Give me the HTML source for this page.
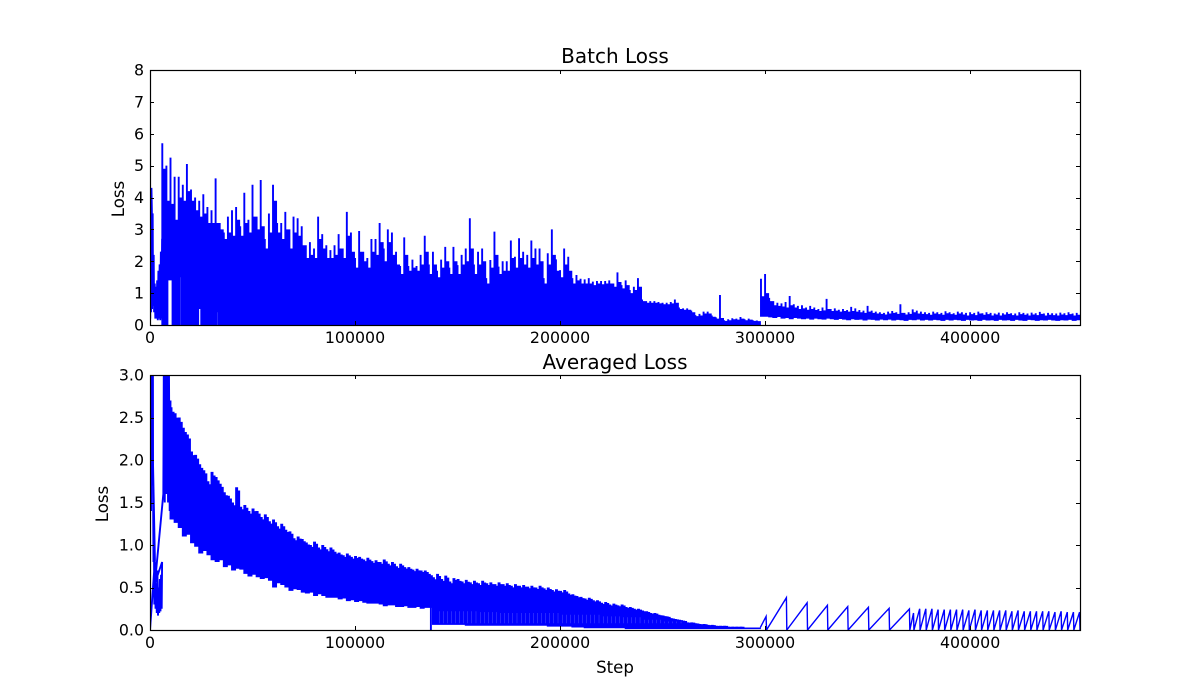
<!DOCTYPE html>
<html lang="en">
<head>
<meta charset="utf-8">
<title>Batch Loss and Averaged Loss</title>
<style>
html,body{margin:0;padding:0;background:#fff;width:1200px;height:700px;overflow:hidden}
svg{display:block}
text{font-family:"DejaVu Sans","Liberation Sans",sans-serif;fill:#000}
.tick-label{font-size:15.8px}
.axis-title{font-size:16.6px}
.chart-title{font-size:20px}
</style>
</head>
<body>
<svg id="chart" width="1200" height="700" viewBox="0 0 1200 700" xmlns="http://www.w3.org/2000/svg">
  <defs>
    <clipPath id="clip-top"><rect x="150" y="70" width="930" height="255"/></clipPath>
    <clipPath id="clip-bottom"><rect x="150" y="375" width="930" height="255"/></clipPath>
  </defs>
  <g id="top-panel">
    <path id="batch-line" clip-path="url(#clip-top)" fill="none" stroke="#0000ff" stroke-width="1.9"/>
    <rect x="150.5" y="70.5" width="930" height="255" fill="none" stroke="#000" stroke-width="1.2"/>
    <g id="top-ticks"></g>
    <text class="chart-title" x="615" y="63" text-anchor="middle">Batch Loss</text>
    <text class="axis-title" x="0" y="0" text-anchor="middle" transform="translate(124 199) rotate(-90)">Loss</text>
  </g>
  <g id="bottom-panel">
    <path id="avg-line" clip-path="url(#clip-bottom)" fill="none" stroke="#0000ff" stroke-width="1.9"/>
    <path id="avg-saw-line" clip-path="url(#clip-bottom)" fill="none" stroke="#0000ff" stroke-width="1.4"/>
    <rect x="150.5" y="375.5" width="930" height="255" fill="none" stroke="#000" stroke-width="1.2"/>
    <g id="bottom-ticks"></g>
    <text class="chart-title" x="615" y="369" text-anchor="middle">Averaged Loss</text>
    <text class="axis-title" x="0" y="0" text-anchor="middle" transform="translate(108 504) rotate(-90)">Loss</text>
    <text class="axis-title" x="615" y="673" text-anchor="middle">Step</text>
  </g>
</svg>
<script>
const xTickValues = [0, 100000, 200000, 300000, 400000];
const topYTicks = [0, 1, 2, 3, 4, 5, 6, 7, 8];
const bottomYTicks = ['0.0', '0.5', '1.0', '1.5', '2.0', '2.5', '3.0'];
const xMax = 453600;
const topYMax = 8;
const bottomYMax = 3;

/* Batch loss: first steps, traced point by point */
const batchEarlySteps = [0,100,200,500,700,900,1000,1300,1500,1800,2000,2300,2600,2900,3200,3500,3800,4100,4400,4700,5000,5300,5600,5900];
const batchEarlyValues = [5.2,0.2,4.3,0.4,4.3,3.6,0.5,3.5,0.6,2.2,0.4,1.3,0.2,1.2,0.2,1.4,0.15,1.7,0.2,1.9,0.15,2.3,0.2,2.7];
/* Batch loss: tallest spike in each 2000-step bucket */
const batchPeak = [
5.2,3.6,1.6,5.7,5.0,5.25,4.65,4.65,4.4,5.05,
4.25,4.0,3.9,4.1,3.7,3.6,4.6,3.2,2.9,3.4,
3.6,3.7,3.1,4.15,3.3,4.4,3.4,4.55,2.7,3.5,
4.4,3.2,3.2,3.55,3.0,3.4,3.35,3.1,2.5,2.6,
2.4,3.4,2.85,2.5,2.35,2.5,2.85,2.4,3.55,2.9,
2.1,2.95,2.3,2.1,2.7,2.7,3.2,2.4,3.0,2.9,
2.3,1.85,2.75,1.85,2.05,1.85,2.2,2.8,1.9,2.3,
1.7,2.05,2.45,1.8,2.45,1.88,2.2,2.4,3.35,1.9,
2.3,2.4,1.47,2.04,2.93,1.83,2.0,2.0,2.65,2.14,
2.72,2.3,2.2,2.65,2.4,2.4,1.47,2.25,3.0,2.06,
1.72,2.4,2.14,1.47,1.57,1.45,1.43,1.47,1.36,1.38,
1.38,1.38,1.4,1.3,1.65,1.25,1.4,1.1,1.2,1.47,
0.8,0.75,0.75,0.75,0.72,0.7,0.7,0.72,0.8,0.55,
0.52,0.52,0.45,0.31,0.35,0.42,0.42,0.3,0.24,0.94,
0.15,0.18,0.21,0.2,0.25,0.18,0.2,0.15,0.14,1.45,1.6,
0.85,0.75,0.7,0.68,0.72,0.91,0.65,0.6,0.62,0.55,
0.6,0.55,0.5,0.55,0.82,0.5,0.52,0.48,0.5,0.47,
0.57,0.52,0.47,0.45,0.6,0.45,0.42,0.4,0.38,0.42,
0.44,0.4,0.65,0.38,0.4,0.49,0.45,0.42,0.4,0.38,
0.42,0.4,0.38,0.43,0.4,0.37,0.42,0.4,0.38,0.4,
0.38,0.42,0.37,0.4,0.38,0.36,0.39,0.37,0.4,0.37,
0.36,0.4,0.38,0.36,0.39,0.37,0.41,0.36,0.38,0.37,
0.36,0.39,0.37,0.4,0.36,0.38];
/* Batch loss: second tallest level in each 2000-step bucket */
const batchShoulder = [
3.0,2.5,1.4,4.9,3.9,3.8,3.3,4.0,3.9,4.2,
3.9,3.6,3.4,3.5,3.2,3.2,3.2,3.0,2.7,2.9,
2.8,3.3,2.8,3.2,2.9,3.4,3.0,3.1,2.4,2.9,
3.9,2.9,2.7,3.0,2.4,2.9,2.8,2.5,2.1,2.2,
2.1,2.7,2.4,2.1,2.1,2.2,2.4,2.1,2.8,2.3,
1.8,2.3,2.0,1.8,2.3,2.2,2.6,2.0,2.6,2.2,
1.9,1.6,2.2,1.7,1.8,1.7,1.9,2.3,1.6,1.9,
1.5,1.8,2.0,1.6,2.0,1.6,1.9,2.0,2.4,1.6,
1.9,2.0,1.3,1.8,2.2,1.6,1.7,1.7,2.1,1.8,
2.1,1.9,1.8,2.1,1.9,2.0,1.3,1.9,2.2,1.7,
1.5,1.9,1.7,1.3,1.4,1.3,1.3,1.3,1.25,1.3,
1.28,1.3,1.3,1.2,1.35,1.15,1.25,1.0,1.1,1.2,
0.75,0.7,0.7,0.7,0.68,0.65,0.65,0.68,0.7,0.5,
0.48,0.48,0.4,0.28,0.3,0.36,0.36,0.26,0.2,0.22,
0.13,0.15,0.18,0.17,0.2,0.15,0.17,0.13,0.12,0.9,
1.0,0.75,0.62,0.6,0.58,0.55,0.62,0.55,0.5,0.52,
0.48,0.5,0.47,0.44,0.46,0.5,0.44,0.45,0.42,0.44,
0.42,0.44,0.42,0.4,0.38,0.42,0.38,0.36,0.35,0.33,
0.36,0.38,0.35,0.38,0.33,0.35,0.4,0.36,0.35,0.34,
0.32,0.36,0.34,0.32,0.37,0.34,0.32,0.36,0.33,0.3,
0.34,0.31,0.36,0.32,0.34,0.3,0.33,0.3,0.33,0.35,
0.31,0.3,0.34,0.32,0.3,0.33,0.31,0.35,0.3,0.32,
0.31,0.3,0.33,0.31,0.34,0.3,0.32];
/* Batch loss: bottom of the noisy band, every 2000 steps from 298000 */
const batchBandFloor = [
0.26,0.26,0.24,0.22,0.25,0.2,0.22,0.18,0.22,0.2,
0.18,0.2,0.17,0.2,0.18,0.17,0.2,0.18,0.16,0.19,
0.17,0.15,0.18,0.16,0.17,0.14,0.17,0.16,0.14,0.17,
0.15,0.17,0.14,0.16,0.15,0.13,0.16,0.15,0.17,0.14,
0.16,0.14,0.16,0.15,0.13,0.16,0.14,0.16,0.15,0.13,
0.16,0.14,0.15,0.13,0.16,0.14,0.15,0.13,0.16,0.14,
0.15,0.13,0.16,0.14,0.13,0.16,0.15,0.13,0.15,0.14,
0.16,0.14,0.13,0.15,0.14,0.16,0.13,0.15];
/* Batch loss: white slits near the start */
const batchGapSteps = [9000,9500,10000,10500,15000,24000,24500,33000];
const batchGapFloors = [1.4,1.4,1.4,1.4,1.5,0.5,0.5,0.4];

/* Averaged loss: first steps, traced point by point */
const earlySteps = [0,2400,200,500,800,1100,1400,1500,1700,1900,2100,2400,2700,3000,3300,3600,3900,4200,4500,4800,5100,5400,5700,5900,2400,6500,6800,7200,7600,8000,8400,8800,9200,9600,10000];
const earlyValues = [0,0.82,3.5,1.4,3.5,1.7,3.5,1.6,0.8,1.1,0.3,0.8,0.25,0.55,0.2,0.7,0.17,0.5,0.2,0.6,0.22,0.65,0.25,0.8,0.55,1.6,3.5,1.5,3.5,1.6,3.5,1.5,3.3,1.4,2.7];
/* Averaged loss: upper envelope, every 2000 steps from 10000 */
const avgHigh = [
2.62,2.55,2.5,2.38,2.3,2.1,2.06,1.95,1.88,1.75,
1.86,1.8,1.72,1.62,1.58,1.5,1.68,1.45,1.47,1.4,
1.43,1.4,1.33,1.36,1.28,1.3,1.22,1.25,1.18,1.16,
1.08,1.1,1.07,1.03,1.0,1.04,0.97,1.0,0.95,0.97,
0.92,0.91,0.88,0.9,0.86,0.87,0.86,0.83,0.85,0.81,
0.82,0.8,0.83,0.78,0.8,0.75,0.78,0.74,0.74,0.71,
0.72,0.7,0.7,0.66,0.62,0.66,0.6,0.64,0.57,0.61,
0.6,0.57,0.59,0.56,0.58,0.55,0.58,0.55,0.56,0.54,
0.56,0.54,0.55,0.52,0.54,0.52,0.53,0.51,0.52,0.5,
0.52,0.49,0.5,0.47,0.48,0.46,0.47,0.43,0.42,0.4,
0.39,0.37,0.38,0.35,0.35,0.32,0.33,0.3,0.31,0.29,
0.3,0.27,0.27,0.25,0.25,0.23,0.22,0.2,0.2,0.18,
0.17,0.16,0.14,0.13,0.12,0.11,0.09,0.09,0.08,0.07,
0.07,0.06,0.06,0.05,0.05,0.05,0.04,0.04,0.04,0.04,
0.03,0.03,0.03,0.03];
/* Averaged loss: lower envelope, every 2000 steps from 10000 */
const avgLow = [
1.3,1.26,1.2,1.1,1.12,1.02,0.98,0.9,0.93,0.88,
0.82,0.8,0.82,0.74,0.76,0.7,0.72,0.71,0.66,0.63,
0.65,0.62,0.6,0.61,0.58,0.5,0.55,0.53,0.5,0.46,
0.48,0.47,0.44,0.43,0.44,0.4,0.42,0.4,0.38,0.38,
0.38,0.36,0.37,0.34,0.35,0.33,0.34,0.32,0.31,0.31,
0.31,0.3,0.28,0.29,0.29,0.27,0.27,0.28,0.26,0.26,
0.27,0.25,0.26,0.26,0.06,0.06,0.06,0.06,0.06,0.06,
0.06,0.06,0.05,0.05,0.05,0.05,0.05,0.05,0.05,0.05,
0.05,0.05,0.05,0.05,0.05,0.05,0.05,0.05,0.05,0.05,
0.05,0.05,0.04,0.04,0.04,0.04,0.04,0.04,0.03,0.03,
0.03,0.02,0.02,0.02,0.02,0.02,0.02,0.02,0.02,0.02,
0.02,0.01,0.01,0.01,0.01,0.01,0.01,0.01,0.01,0.01,
0.01,0.01,0.01,0.01,0.01,0.01,0.01,0.01,0.01,0.01,
0.01,0.01,0.01,0.01,0.01,0.01,0.01,0.01,0.01,0.01,
0.01,0.01,0.01,0.01];
/* Averaged loss: top of the pale comb, per 10000 steps from 140000 */
const combTops = [0.22,0.22,0.21,0.2,0.2,0.2,0.18,0.18,0.16,0.15,0.12,0.1,0.08];
const combBase = 0.08;
const avgDropStep = 137000;
const avgDropTop = 0.55;
/* Averaged loss: sawtooth tops after the reset */
const sawSteps = [300500,310400,320500,330400,340300,350400,360500,370400,372400,375400,378400,381400,384400,387400,390400,393400,396400,399400,402400,405400,408400,411400,414400,417400,420400,423400,426400,429400,432400,435400,438400,441400,444400,447400,450400,453400];
const sawValues = [0.16,0.38,0.32,0.29,0.275,0.267,0.255,0.247,0.2,0.25,0.25,0.25,0.24,0.24,0.24,0.24,0.24,0.23,0.24,0.23,0.23,0.23,0.23,0.23,0.22,0.23,0.22,0.22,0.22,0.22,0.22,0.21,0.22,0.21,0.21,0.21];

const bucketSize = 2000;
const coarseSize = 10000;
const batchColumnsStart = 6000;
const batchBandStart = 298000;
const avgStart = 10000;
const combStart = 140000;
const sawStart = 297700;
const sawStartValue = 0.03;
const toothRatio = 0.96;
const subColumns = [0, 500, 1000, 1500];

const svgNS = 'http://www.w3.org/2000/svg';
const xPos = s => 150 + s / xMax * 930;
const yTop = v => 325 - v / topYMax * 255;
const yBottom = v => 630 - v / bottomYMax * 255;
const f = n => n.toFixed(2);

function column(x, yA, yB) {
  return 'M' + f(x) + ' ' + f(yA) + 'V' + f(yB);
}

let batchPath = 'M' + f(xPos(batchEarlySteps[0])) + ' ' + f(yTop(batchEarlyValues[0]));
batchEarlySteps.forEach((s, i) => {
  batchPath += 'L' + f(xPos(s)) + ' ' + f(yTop(batchEarlyValues[i]));
});
batchPeak.forEach((peak, i) => {
  const step = i * bucketSize;
  if (step < batchColumnsStart) return;
  const shoulder = Math.min(batchShoulder[i], peak);
  const bandFloor = step >= batchBandStart ? batchBandFloor[(step - batchBandStart) / bucketSize] : 0;
  const heights = [peak, shoulder, shoulder, shoulder];
  subColumns.forEach((off, n) => {
    const gap = batchGapSteps.indexOf(step + off);
    const floor = gap >= 0 ? batchGapFloors[gap] : bandFloor;
    batchPath += column(xPos(step + off), yTop(floor), yTop(heights[n]));
  });
});
document.getElementById('batch-line').setAttribute('d', batchPath);

let avgPath = 'M' + f(xPos(earlySteps[0])) + ' ' + f(yBottom(earlyValues[0]));
earlySteps.forEach((s, i) => {
  avgPath += 'L' + f(xPos(s)) + ' ' + f(yBottom(earlyValues[i]));
});
avgHigh.forEach((high, j) => {
  const step = avgStart + j * bucketSize;
  const low = avgLow[j];
  const k = Math.floor((step - combStart) / coarseSize);
  const combTop = k >= 0 && k < combTops.length ? combTops[k] : null;
  subColumns.forEach((off, n) => {
    const top = n < 2 ? high : low + (high - low) * toothRatio;
    if (n === 2 && combTop !== null && combTop < top) {
      avgPath += column(xPos(step + off), yBottom(low), yBottom(combBase));
      avgPath += column(xPos(step + off), yBottom(combTop), yBottom(top));
    } else {
      avgPath += column(xPos(step + off), yBottom(low), yBottom(top));
    }
  });
});
avgPath += column(xPos(avgDropStep), yBottom(0), yBottom(avgDropTop));
document.getElementById('avg-line').setAttribute('d', avgPath);

let sawPath = 'M' + f(xPos(sawStart)) + ' ' + f(yBottom(sawStartValue));
sawSteps.forEach((s, i) => {
  sawPath += 'L' + f(xPos(s)) + ' ' + f(yBottom(sawValues[i]));
  sawPath += 'L' + f(xPos(s + 200)) + ' ' + f(yBottom(0));
});
document.getElementById('avg-saw-line').setAttribute('d', sawPath);

function addTickLine(parent, x1, y1, x2, y2) {
  const line = document.createElementNS(svgNS, 'line');
  
  
  line.setAttribute('x1', x1);
  line.setAttribute('y1', y1);
  line.setAttribute('x2', x2);
  line.setAttribute('y2', y2);
  line.setAttribute('stroke', '#000');
  line.setAttribute('stroke-width', '1');
  parent.appendChild(line);
}

function addTickLabel(parent, x, y, anchor, str) {
  const label = document.createElementNS(svgNS, 'text');
  
  
  label.setAttribute('class', 'tick-label');
  label.setAttribute('x', x);
  label.setAttribute('y', y);
  label.setAttribute('text-anchor', anchor);
  label.textContent = str;
  parent.appendChild(label);
}

function drawAxes(groupId, yTickList, yScale, top, bottom) {
  const g = document.getElementById(groupId);
  xTickValues.forEach(v => {
    const x = Math.round(xPos(v)) + 0.5;
    addTickLine(g, x, bottom, x, bottom - 4);
    addTickLine(g, x, top, x, top + 4);
    addTickLabel(g, xPos(v), bottom + 18, 'middle', String(v));
  });
  yTickList.forEach(t => {
    const y = Math.round(yScale(Number(t))) + 0.5;
    addTickLine(g, 150, y, 154, y);
    addTickLine(g, 1080, y, 1076, y);
    addTickLabel(g, 144, yScale(Number(t)) + 5.5, 'end', String(t));
  });
}
drawAxes('top-ticks', topYTicks, yTop, 70, 325);
drawAxes('bottom-ticks', bottomYTicks, yBottom, 375, 630);
</script>
</body>
</html>
